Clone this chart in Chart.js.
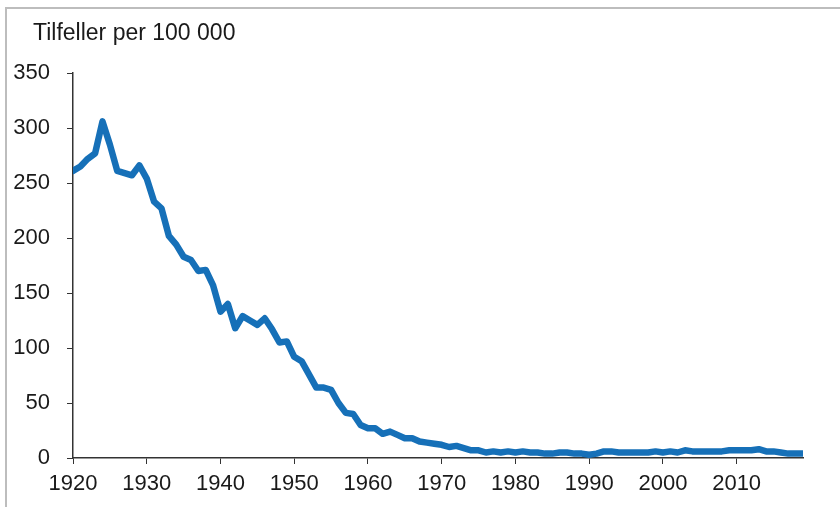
<!DOCTYPE html>
<html>
<head>
<meta charset="utf-8">
<script src="https://cdn.jsdelivr.net/npm/chart.js@4.4.1/dist/chart.umd.min.js"></script>
<style>
  html, body { margin: 0; padding: 0; background: #fff; }
  #wrap { position: relative; width: 840px; height: 507px; overflow: hidden; }
  #frame {
    position: absolute; left: 5px; top: 7px; width: 900px; height: 600px;
    border-top: 2px solid #bdbdbd; border-left: 2px solid #bdbdbd;
  }
  #title {
    position: absolute; left: 33px; top: 19px;
    font: 23px "Liberation Sans", Arial, sans-serif; color: #1a1a1a;
  }
  canvas { position: absolute; left: 0; top: 0; }
</style>
</head>
<body>
<div id="wrap">
  <div id="frame"></div>
  <canvas id="chart" width="840" height="507"></canvas>
  <div id="title">Tilfeller per 100 000</div>
</div>
<script>
// Data
const years = [];
for (let y = 1920; y <= 2019; y++) years.push(y);

const cases = [
  261, 265, 272, 277, 306, 285, 261, 259, 257, 266,   // 1920-29
  254, 233, 227, 202, 194, 183, 180, 170, 171, 157,   // 1930-39
  133, 140, 118, 129, 125, 121, 127, 117, 105, 106,   // 1940-49
  92, 88, 76, 64, 64, 62, 50, 41, 40, 30,             // 1950-59
  27, 27, 22, 24, 21, 18, 18, 15, 14, 13,             // 1960-69
  12, 10, 11, 9, 7, 7, 5, 6, 5, 6,                    // 1970-79
  5, 6, 5, 5, 4, 4, 5, 5, 4, 4,                       // 1980-89
  3, 4, 6, 6, 5, 5, 5, 5, 5, 6,                       // 1990-99
  5, 6, 5, 7, 6, 6, 6, 6, 6, 7,                       // 2000-09
  7, 7, 7, 8, 6, 6, 5, 4, 4, 4                        // 2010-19
];

const yTicks = [0, 50, 100, 150, 200, 250, 300, 350];

const axisColor = '#333333';
const tickFont = { family: '"Liberation Sans", Arial, sans-serif', size: 22 };

new Chart(document.getElementById('chart'), {
  type: 'line',
  data: {
    datasets: [{
      data: years.map((y, i) => ({ x: y, y: cases[i] })),
      borderColor: '#1670b8',
      borderWidth: 6.5,
      pointRadius: 0,
      tension: 0,
      borderJoinStyle: 'round',
      borderCapStyle: 'round',
      fill: false
    }]
  },
  options: {
    responsive: false,
    animation: false,
    layout: { padding: { left: 0, right: 37, top: 73, bottom: 0 } },
    plugins: { legend: { display: false }, tooltip: { enabled: false } },
    scales: {
      x: {
        type: 'linear',
        min: 1920,
        max: 2019,
        grid: { drawOnChartArea: false, drawTicks: true, tickLength: 6, color: axisColor },
        border: { color: axisColor, width: 1.5 },
        ticks: {
          stepSize: 10,
          includeBounds: false,
          padding: 7,
          color: '#1a1a1a',
          font: tickFont,
          maxRotation: 0,
          callback: v => String(v)
        },
        afterFit: s => { s.height = 49; }
      },
      y: {
        min: 0,
        max: 350,
        grid: { drawOnChartArea: false, drawTicks: true, tickLength: 6, color: axisColor },
        border: { color: axisColor, width: 1.5 },
        ticks: {
          stepSize: 50,
          padding: 17,
          color: '#1a1a1a',
          font: tickFont,
          callback: v => yTicks.includes(v) ? String(v) : ''
        },
        afterFit: s => { s.width = 73; }
      }
    }
  }
});
</script>
</body>
</html>
